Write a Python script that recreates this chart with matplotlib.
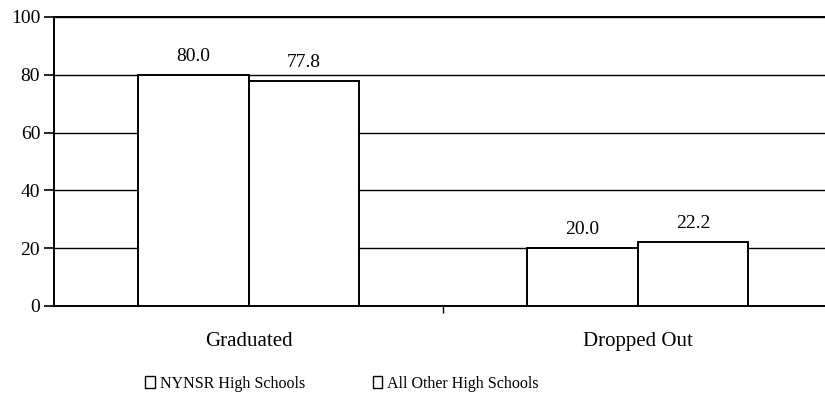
"""Graduation and dropout rates, NYNSR vs. all other high schools."""

import matplotlib.pyplot as plt
import numpy as np
from matplotlib.patches import Patch

categories = ["Graduated", "Dropped Out"]
series_names = ["NYNSR High Schools", "All Other High Schools"]
nynsr = [80.0, 20.0]
other = [77.8, 22.2]
y_ticks = [0, 20, 40, 60, 80, 100]

plt.rcParams["font.family"] = ["Liberation Serif", "DejaVu Serif"]

fig = plt.figure(figsize=(8.25, 3.98), dpi=100)
ax = fig.add_axes([0.0655, 0.2312, 0.943, 0.7261])

x = np.arange(len(categories))
width = 0.285
for offset, values in ((-width / 2, nynsr), (width / 2, other)):
    bars = ax.bar(x + offset, values, width, color="white", edgecolor="black",
                  linewidth=1.4, zorder=3)
    for rect, v in zip(bars, values):
        ax.text(rect.get_x() + rect.get_width() / 2, v + 3.5, f"{v:.1f}",
                ha="center", va="bottom", fontsize=14)

ax.set_xlim(-0.5, 1.5)
ax.set_ylim(0, 100)
ax.set_yticks(y_ticks)
ax.tick_params(axis="y", direction="out", length=7, width=1.2, labelsize=14, pad=3)
ax.yaxis.grid(True, color="black", linewidth=1.0, zorder=0)

# category labels sit between ticks that mark the category boundaries
ax.set_xticks([0.5])
ax.set_xticklabels([""])
ax.set_xticks(x, minor=True)
ax.set_xticklabels(categories, minor=True, fontsize=15)
ax.tick_params(axis="x", which="major", direction="out", length=5, width=1.0)
ax.tick_params(axis="x", which="minor", length=0, pad=19)

ax.spines["right"].set_visible(False)
for side in ("left", "bottom", "top"):
    ax.spines[side].set_linewidth(1.4)

for name, xpos in zip(series_names, (0.176, 0.452)):
    handle = Patch(facecolor="white", edgecolor="black", linewidth=1.0)
    leg = fig.legend([handle], [name], loc="center left",
                     bbox_to_anchor=(xpos, 0.036), frameon=False, fontsize=11.5,
                     handlelength=0.6, handleheight=0.7, handletextpad=0.3,
                     borderpad=0, borderaxespad=0)

fig.savefig("out.png", dpi=100)
